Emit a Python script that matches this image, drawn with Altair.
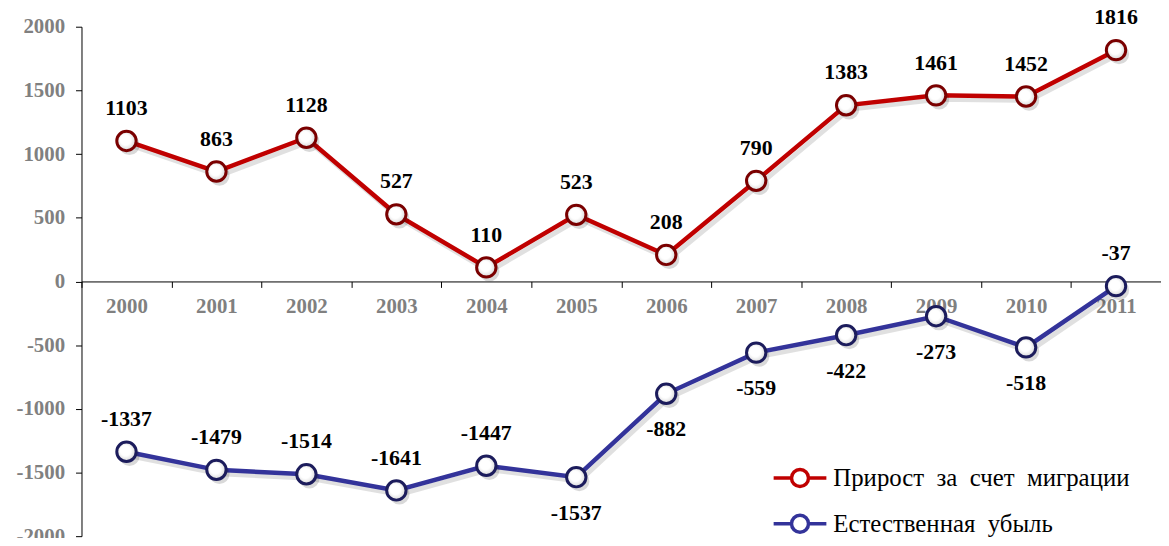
import altair as alt
import pandas as pd

years = [str(y) for y in range(2000, 2012)]
migration = [1103, 863, 1128, 527, 110, 523, 208, 790, 1383, 1461, 1452, 1816]
natural = [-1337, -1479, -1514, -1641, -1447, -1537, -882, -559, -422, -273, -518, -37]
# label placement for each point: "a" above, "b" below
migration_pos = ["a"] * 12
natural_pos = ["a", "a", "a", "a", "a", "b", "b", "b", "b", "b", "b", "a"]
series_names = ["Прирост\u00a0 за\u00a0 счет\u00a0 миграции", "Естественная\u00a0 убыль"]
line_colors = ["#c00000", "#33339a"]
edge_colors = ["#7a0000", "#1c1c5c"]
y_ticks = [-2000, -1500, -1000, -500, 0, 500, 1000, 1500, 2000]

rows = []
for name, vals, pos in [(series_names[0], migration, migration_pos),
                        (series_names[1], natural, natural_pos)]:
    for y, v, p in zip(years, vals, pos):
        rows.append({"year": y, "value": v, "label": str(v), "series": name, "pos": p})
df = pd.DataFrame(rows)

FONT = "Liberation Serif, Times New Roman, DejaVu Serif, serif"
PH = 513

x = alt.X(
    "year:N",
    bandPosition=0.5,
    scale=alt.Scale(type="band", paddingInner=0, paddingOuter=0),
    axis=alt.Axis(
        title=None, orient="bottom", offset=-PH / 2, tickBand="extent",
        labelAngle=0, labelFont=FONT, labelFontSize=21, labelFontWeight="bold",
        labelColor="#808080", labelPadding=8, tickSize=6, tickColor="#000",
        domainColor="#000", grid=False, zindex=0,
    ),
)
y = alt.Y(
    "value:Q",
    scale=alt.Scale(domain=[-2000, 2000], nice=False, zero=False),
    axis=alt.Axis(
        title=None, values=y_ticks, labelExpr="'' + datum.value",
        labelFont=FONT, labelFontSize=21,
        labelFontWeight="bold", labelColor="#808080", labelPadding=11,
        tickSize=6, tickColor="#000", domainColor="#000", grid=False, zindex=0,
    ),
)

legend_path = ("M-1.18,0 L-0.38,0 M0.38,0 L1.18,0 "
               "M-0.38,0 A0.38,0.38 0 1,0 0.38,0 A0.38,0.38 0 1,0 -0.38,0")

color = alt.Color(
    "series:N",
    scale=alt.Scale(domain=series_names, range=line_colors),
    legend=alt.Legend(
        title=None, orient="none", legendX=699, legendY=430,
        symbolType=legend_path, symbolSize=2025, symbolStrokeWidth=3.5,
        symbolFillColor="white", labelFont=FONT, labelFontSize=25,
        labelColor="#000", labelOffset=9, rowPadding=5, padding=0,
        labelLimit=0,
    ),
)

base = alt.Chart(df)

shadow_line = base.mark_line(
    strokeWidth=5, color="#000", opacity=0.12, xOffset=3, yOffset=4
).encode(x=x, y=y, detail="series:N")

lines = base.mark_line(strokeWidth=4.5).encode(x=x, y=y, color=color)

shadow_pts = base.mark_point(
    filled=True, size=420, color="#000", opacity=0.15, xOffset=3, yOffset=4
).encode(x=x, y=y)

grad = alt.RadialGradient(
    gradient="radial",
    stops=[alt.GradientStop(color="#ffffff", offset=0),
           alt.GradientStop(color="#ffffff", offset=0.45),
           alt.GradientStop(color="#c8c8c8", offset=1)],
    x1=0.4, y1=0.4, x2=0.5, y2=0.5, r1=0, r2=0.6,
)

points = base.mark_point(
    filled=False, size=380, strokeWidth=3, fill=grad, fillOpacity=1, opacity=1
).encode(
    x=x, y=y,
    stroke=alt.Stroke("series:N",
                      scale=alt.Scale(domain=series_names, range=edge_colors),
                      legend=None),
)

lab_above = base.transform_filter(alt.datum.pos == "a").mark_text(
    font=FONT, fontSize=22, fontWeight="bold", color="#000", dy=-33, baseline="middle"
).encode(x=x, y=y, text="label:N")

lab_below = base.transform_filter(alt.datum.pos == "b").mark_text(
    font=FONT, fontSize=22, fontWeight="bold", color="#000", dy=36, baseline="middle"
).encode(x=x, y=y, text="label:N")

chart = alt.layer(
    shadow_line, lines, shadow_pts, points, lab_above, lab_below
).resolve_scale(color="independent").properties(
    width=1087, height=PH,
    padding={"left": 74, "top": 17, "right": 0, "bottom": 0},
    autosize=alt.AutoSizeParams(type="none"),
    background="white",
).configure_view(stroke=None)

chart.save("out.html", embed_options={"renderer": "svg", "actions": False})
